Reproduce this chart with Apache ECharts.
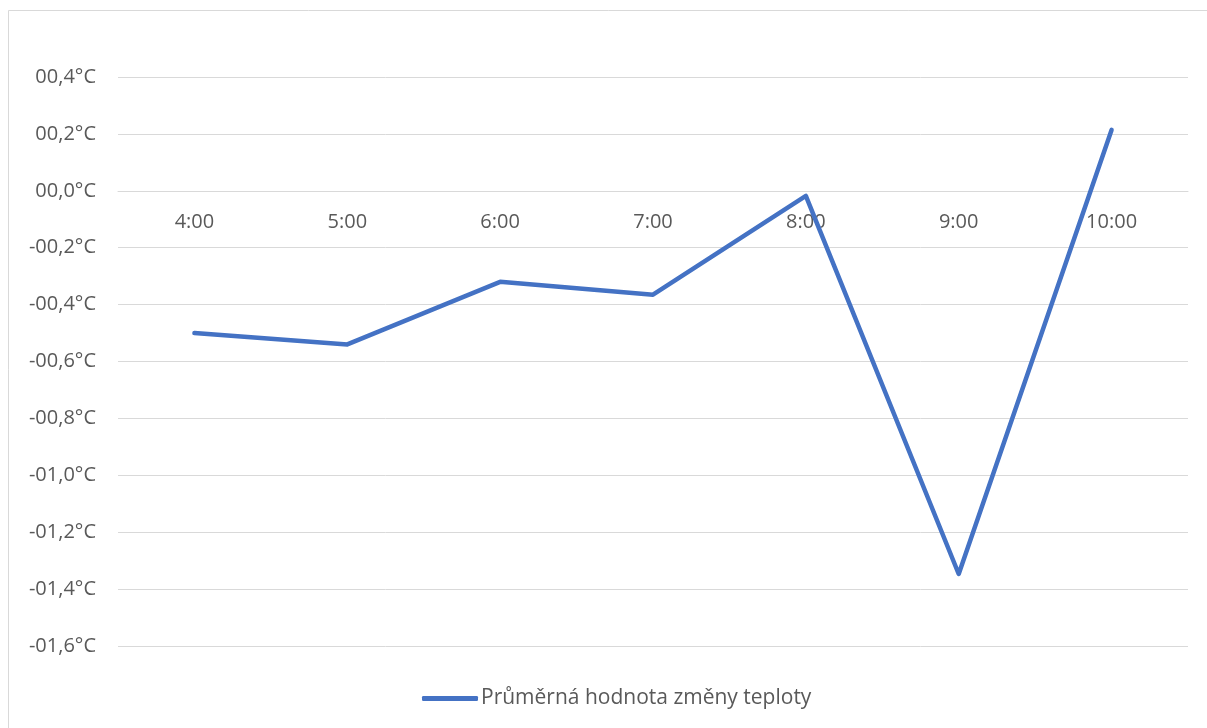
<!DOCTYPE html>
<html>
<head>
<meta charset="utf-8">
<script src="https://cdn.jsdelivr.net/npm/echarts@6/dist/echarts.min.js"></script>
<style>
  html, body { margin: 0; padding: 0; background: #fff; }
  #chart { width: 1207px; height: 728px; }
</style>
</head>
<body>
<div id="chart"></div>
<script>
// Hourly categories and average temperature change (°C)
const hours = ['4:00', '5:00', '6:00', '7:00', '8:00', '9:00', '10:00'];
const avgChange = [-0.50, -0.54, -0.32, -0.365, -0.018, -1.347, 0.214];
const seriesName = 'Průměrná hodnota změny teploty';

const yMin = -1.6, yMax = 0.4, yStep = 0.2;

function fmtTemp(v) {
  const r = Math.round(v * 10) / 10;
  const sign = r < 0 ? '-' : '';
  return sign + '0' + Math.abs(r).toFixed(1).replace('.', ',') + '°C';
}

const FONT = '"Open Sans", "Noto Sans", sans-serif';
const GRID = { left: 118, right: 19, top: 77, bottom: 82 };
const plotH = 728 - GRID.top - GRID.bottom;
// distance from the bottom edge of the plot up to the zero line
const zeroOffset = plotH * (0 - yMin) / (yMax - yMin);

const chart = echarts.init(document.getElementById('chart'), null, { renderer: 'canvas' });

chart.setOption({
  backgroundColor: '#ffffff',
  animation: false,
  graphic: [{
    type: 'rect',
    shape: { x: 8.5, y: 10.5, width: 1300, height: 800 },
    style: { fill: 'none', stroke: '#d9d9d9', lineWidth: 1 },
    silent: true,
    z: -10
  }],
  grid: GRID,
  legend: {
    bottom: 14,
    left: 417,
    data: [{ name: seriesName, icon: 'roundRect' }],
    itemWidth: 56,
    itemHeight: 5,
    textStyle: { color: '#595959', fontSize: 21, fontFamily: FONT, padding: [0, 0, 0, -2] }
  },
  xAxis: {
    type: 'category',
    data: hours,
    boundaryGap: true,
    position: 'bottom',
    offset: -zeroOffset,
    axisLine: { onZero: false, lineStyle: { color: '#d9d9d9', width: 1 } },
    axisTick: { show: false },
    axisLabel: { color: '#595959', fontSize: 20, fontFamily: FONT, margin: 21 },
    splitLine: { show: false }
  },
  yAxis: {
    type: 'value',
    min: yMin,
    max: yMax,
    interval: yStep,
    axisLine: { show: false },
    axisTick: { show: false },
    axisLabel: { color: '#595959', fontSize: 20, fontFamily: FONT, margin: 22, formatter: fmtTemp },
    splitLine: { lineStyle: { color: '#d9d9d9', width: 1 } }
  },
  series: [{
    name: seriesName,
    type: 'line',
    data: avgChange,
    symbol: 'none',
    lineStyle: { color: '#4472c4', width: 4.5, cap: 'round', join: 'round' },
    itemStyle: { color: '#4472c4' },
    z: 5
  }]
});
</script>
</body>
</html>
